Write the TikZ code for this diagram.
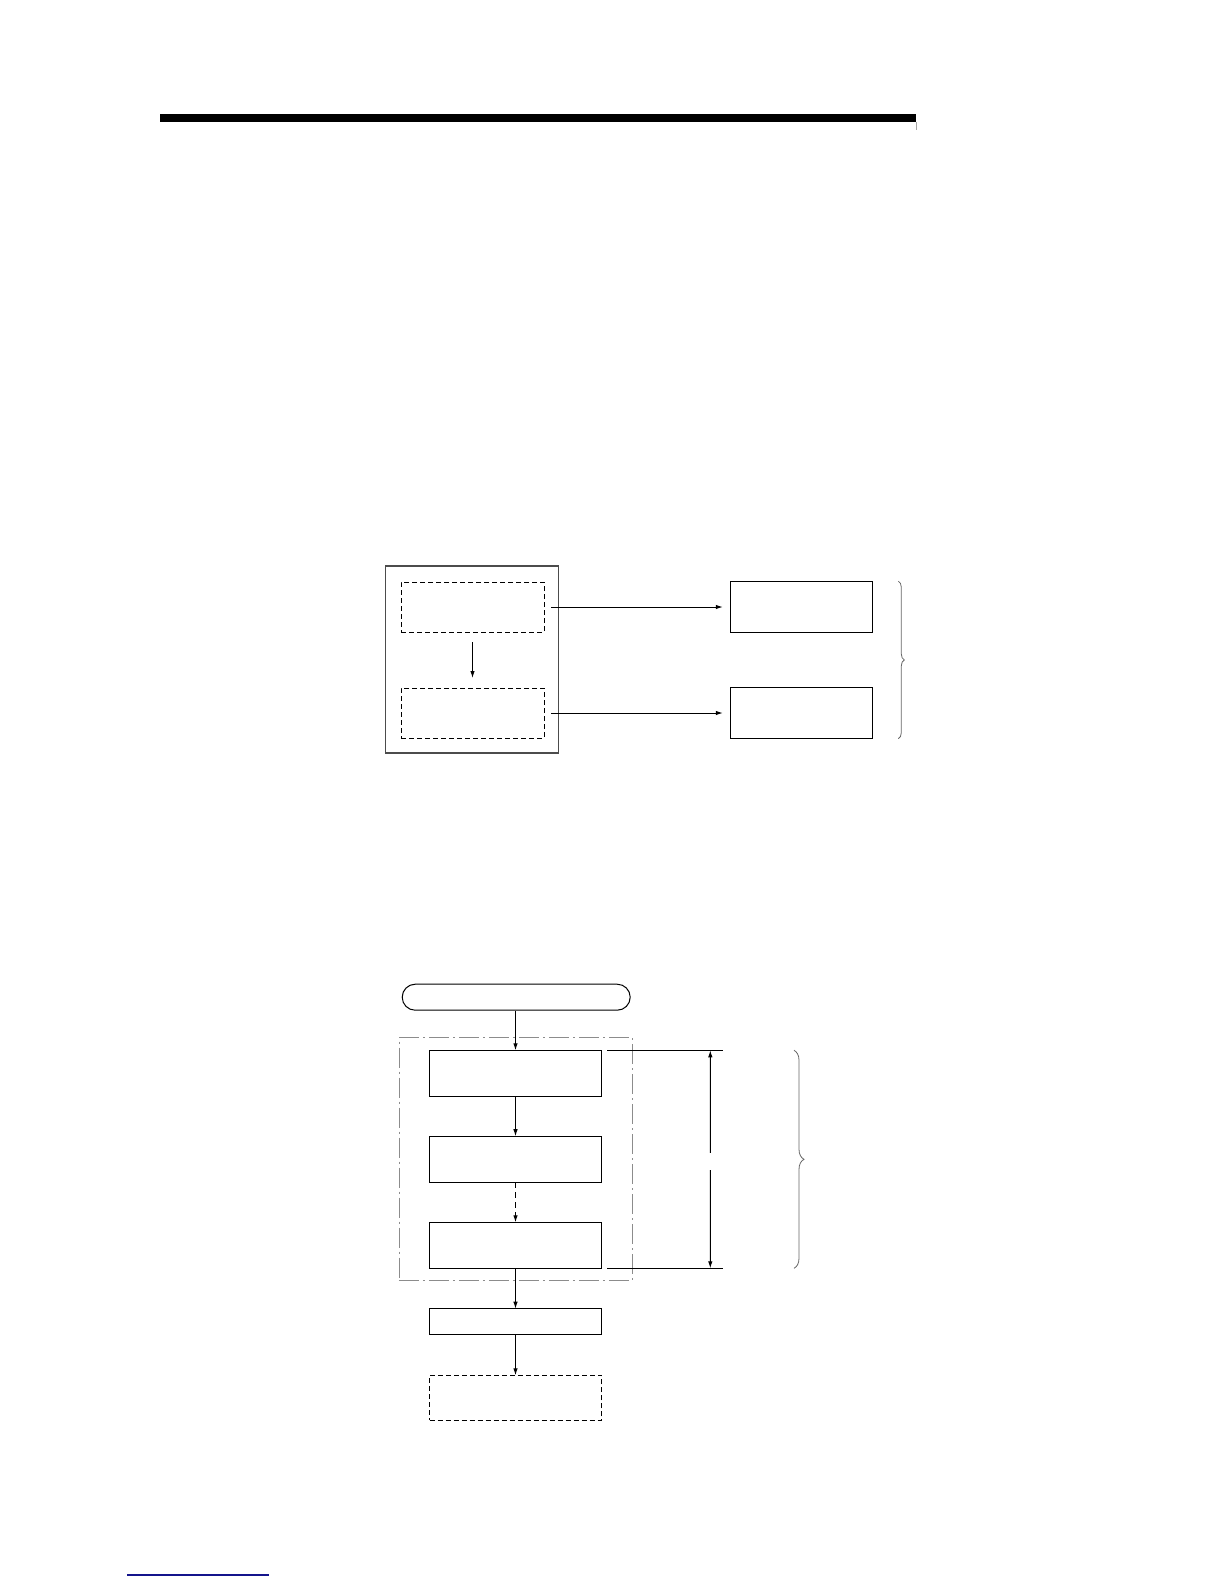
\documentclass[tikz,border=0pt]{standalone}
\usetikzlibrary{positioning,calc,decorations.pathreplacing,arrows.meta}
\definecolor{linkblue}{RGB}{20,20,140}
\begin{document}
\begin{tikzpicture}[x=1bp, y=-1bp, line width=1bp, >={Latex[length=7bp,width=4.5bp]},
    box/.style={draw, inner sep=0pt, outer sep=0pt, minimum width=142bp, minimum height=51bp},
    dbox/.style={box, line width=0.9bp, minimum width=143bp, minimum height=50bp, dash pattern=on 5bp off 3bp},
    fbox/.style={draw, inner sep=0pt, outer sep=0pt, minimum width=172bp, minimum height=46bp},
    brc/.style={draw=black!60, line width=0.8bp, decorate, decoration={brace, amplitude=#1}}]
    \useasboundingbox (0,0) rectangle (1224,1584);

    % page rules
    \fill (160,114) rectangle (916,122);
    \draw[black!35, line width=0.6bp] (916.5,122) -- (916.5,130.5);
    \draw[linkblue, line width=1.5bp] (127,1575) -- (269,1575);

    % upper figure
    \node[box, draw=black!70, line width=1.3bp, minimum width=173bp, minimum height=187bp] (cpu) at (472.3,659.5) {};
    \node[dbox] (prgA) at (472.5,607) {};
    \node[dbox] (prgB) at (472.5,713) {};
    \node[box] (outA) at (801.3,606.7) {};
    \node[box] (outB) at (801.3,713.2) {};

    \draw[->, shorten <=10bp, shorten >=10bp] (prgA) -- (prgB);
    \draw[->, shorten <=7bp, shorten >=7.5bp] (prgA.east) -- (prgA.east -| outA.west);
    \draw[->, shorten <=7bp, shorten >=7.5bp] (prgB.east) -- (prgB.east -| outB.west);
    \draw[brc=6bp] ([xshift=26bp]outA.north east) -- ([xshift=26bp]outB.south east);

    % lower figure
    \node[draw=black!45, line width=0.9bp, inner sep=0pt, minimum width=233.3bp, minimum height=243bp,
          dash pattern=on 20bp off 4bp on 2bp off 4bp] (loop) at (515.6,1158.8) {};
    \node[draw, rounded corners=13bp, inner sep=0pt, minimum width=228bp, minimum height=26bp] (start) at (516.2,997.2) {};
    \node[fbox] (stepA) at (515.5,1073.3) {};
    \node[fbox] (stepB) at (515.5,1159.2) {};
    \node[fbox] (stepC) at (515.5,1245.3) {};
    \node[fbox, minimum height=25.6bp] (endstep) at (515.5,1321.5) {};
    \node[fbox, minimum height=45bp, line width=0.9bp, dash pattern=on 5bp off 3bp] (nextstep) at (515.5,1397.8) {};

    \draw[->] (stepA.north |- start.south) -- (stepA);
    \draw[->] (stepA) -- (stepB);
    \draw[->, dash pattern=on 6bp off 4bp] (stepB) -- (stepC);
    \draw[->] (stepC) -- (endstep);
    \draw[->] (endstep) -- (nextstep);

    \draw ([xshift=5.5bp]stepA.north east) -- ([xshift=121.5bp]stepA.north east);
    \draw ([xshift=5.5bp]stepC.south east) -- ([xshift=121.5bp]stepC.south east);
    \coordinate (dimT) at ([xshift=108.8bp]stepA.north east);
    \coordinate (dimB) at ([xshift=108.8bp]stepC.south east);
    \draw[->] ($(dimT)!0.47!(dimB)$) -- (dimT);
    \draw[->] ($(dimT)!0.55!(dimB)$) -- (dimB);
    \draw[brc=10bp] ([xshift=192.5bp]stepA.north east) -- ([xshift=192.5bp]stepC.south east);
\end{tikzpicture}
\end{document}
